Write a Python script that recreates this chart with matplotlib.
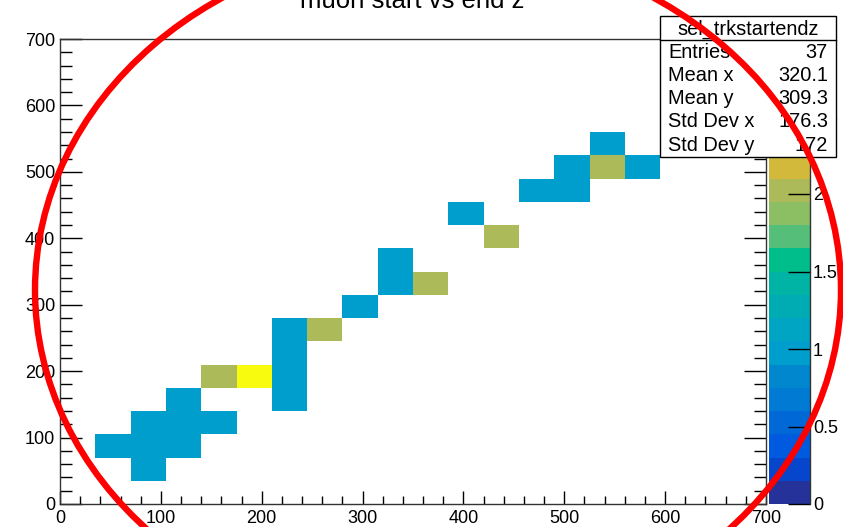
import matplotlib
matplotlib.use("Agg")
import matplotlib.pyplot as plt
import numpy as np
from matplotlib.colors import ListedColormap, Normalize
from matplotlib.patches import Ellipse, Rectangle
from matplotlib.lines import Line2D

plt.rcParams['font.family'] = ['Liberation Sans', 'DejaVu Sans']

# filled bins of the start/end z histogram (bin centres, counts)
x_centres = [52.5, 87.5, 87.5, 87.5, 122.5, 122.5, 122.5, 157.5, 157.5,
             192.5, 227.5, 227.5, 227.5, 227.5, 262.5, 297.5, 332.5, 332.5,
             367.5, 402.5, 437.5, 472.5, 507.5, 507.5, 542.5, 542.5, 577.5]
y_centres = [87.5, 52.5, 87.5, 122.5, 87.5, 122.5, 157.5, 122.5, 192.5,
             192.5, 157.5, 192.5, 227.5, 262.5, 262.5, 297.5, 332.5, 367.5,
             332.5, 437.5, 402.5, 472.5, 472.5, 507.5, 507.5, 542.5, 507.5]
counts = [1, 1, 1, 1, 1, 1, 1, 1, 2,
          3, 1, 1, 1, 1, 2, 1, 1, 1,
          2, 1, 2, 1, 1, 1, 2, 1, 1]

bin_edges = np.arange(0, 701, 35)
hist_name = "sel_trkstartendz"
title = "muon start vs end z"
stat_labels = ["Entries", "Mean x", "Mean y", "Std Dev x", "Std Dev y"]
stat_values = ["37", "320.1", "309.3", "176.3", "172"]
cbar_ticks = [0, 0.5, 1, 1.5, 2, 2.5, 3]

W, H = 843, 527
fig = plt.figure(figsize=(W / 100, H / 100), dpi=100)


def fx(px):
    return px / W


def fy(py):
    return 1 - py / H


# bird-like palette, one colour per contour level (20 levels over 0..3)
level_colors = ['#24329A', '#0646CC', '#005AE0', '#0069D7', '#007AD2',
                '#0087CD', '#009ECC', '#00A5C3', '#00ACB4', '#00B4A5',
                '#00BE8C', '#55BE78', '#8CBE64', '#ADBA59', '#D2B93C',
                '#E6BE32', '#F5C82D', '#FAD723', '#FAE619', '#F9FB0E']
cmap = ListedColormap(level_colors)
norm = Normalize(vmin=0, vmax=3)

hist, xe, ye = np.histogram2d(x_centres, y_centres, bins=[bin_edges, bin_edges],
                              weights=counts)
hist = np.ma.masked_equal(hist, 0)

ax = fig.add_axes([fx(60), fy(504), fx(766) - fx(60), fy(39) - fy(504)])
mesh = ax.pcolormesh(xe, ye, hist.T, cmap=cmap, norm=norm)
ax.set_xlim(0, 700)
ax.set_ylim(0, 700)
ax.set_xticks(np.arange(0, 701, 100))
ax.set_xticks(np.arange(0, 701, 20), minor=True)
ax.set_yticks(np.arange(0, 701, 100))
ax.set_yticks(np.arange(0, 701, 20), minor=True)
ax.tick_params(axis='x', which='major', direction='in', length=9.4, width=1,
               labelsize=13, pad=4)
ax.tick_params(axis='x', which='minor', direction='in', length=5.5, width=1)
ax.tick_params(axis='y', which='major', direction='in', length=16, width=1,
               labelsize=13, pad=3.5, right=True)
ax.tick_params(axis='y', which='minor', direction='in', length=8.6, width=1,
               right=True)
for s in ax.spines.values():
    s.set_color('#333333')
    s.set_linewidth(1)

# palette axis
cax = fig.add_axes([fx(769), fy(504), fx(810) - fx(769), fy(39) - fy(504)])
cb = fig.colorbar(mesh, cax=cax)
cb.outline.set_visible(False)
cb.set_ticks(cbar_ticks)
cb.set_ticklabels(['0', '0.5', '1', '1.5', '2', '2.5', '3'])
cax.minorticks_off()
cax.tick_params(axis='y', which='major', direction='in', length=16, width=1,
                labelsize=13, pad=2, right=True, left=False, color='black')
cax.add_line(Line2D([1, 1], [0, 1], transform=cax.transAxes, color='#333333',
                    lw=1, clip_on=False))

fig.text(fx(412), fy(8), title, ha='center', va='baseline', fontsize=18.5)

# statistics box
fig.add_artist(Rectangle((fx(660), fy(157)), fx(836) - fx(660), fy(16) - fy(157),
                         transform=fig.transFigure, facecolor='white',
                         edgecolor='black', lw=1, zorder=5))
fig.add_artist(Line2D([fx(660), fx(836)], [fy(40), fy(40)],
                      transform=fig.transFigure, color='black', lw=1, zorder=6))
fig.text(fx(748), fy(29), hist_name, ha='center', va='center', fontsize=14.4,
         zorder=7)
for k, (lab, val) in enumerate(zip(stat_labels, stat_values)):
    yy = fy(52 + k * 23.3)
    fig.text(fx(668), yy, lab, ha='left', va='center', fontsize=14.4, zorder=7)
    fig.text(fx(828), yy, val, ha='right', va='center', fontsize=14.4, zorder=7)

# red ring drawn over the whole canvas
fig.add_artist(Ellipse((fx(438), fy(290)), 806 / W, 692 / H,
                       transform=fig.transFigure, fill=False, edgecolor='red',
                       lw=4.6, zorder=10))

fig.savefig("out.png", dpi=100)
